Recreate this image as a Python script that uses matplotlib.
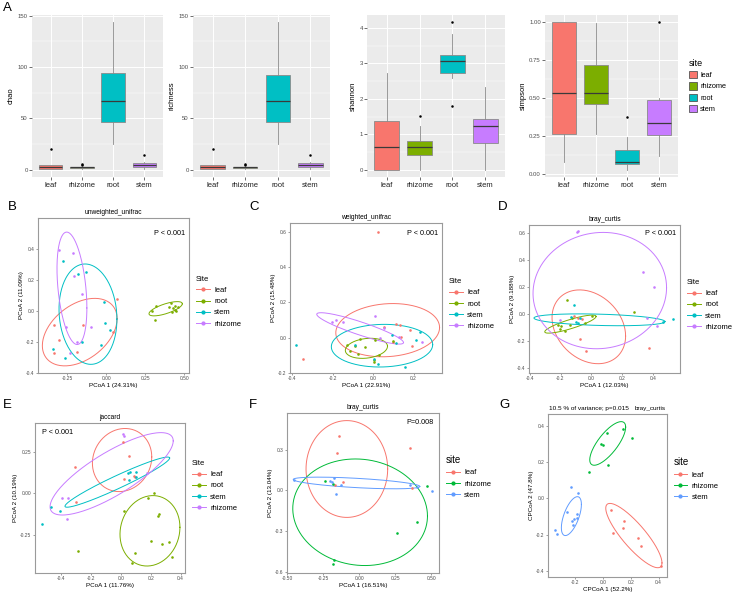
import numpy as np
import matplotlib.pyplot as plt
from matplotlib.lines import Line2D
from matplotlib.patches import Patch
from matplotlib.ticker import MultipleLocator, FormatStrFormatter

plt.rcParams['font.family'] = ['Liberation Sans', 'DejaVu Sans']
plt.rcParams['axes.unicode_minus'] = False

W, H = 733, 592

# ---------------- panel A : alpha diversity boxplots ----------------
sites_a = ["leaf", "rhizome", "root", "stem"]
cols_a = ["#F8766D", "#7CAE00", "#00BFC4", "#C77CFF"]

# [whislo, q1, med, q3, whishi] for leaf, rhizome, root, stem
chao_box = [[1, 1, 2.6, 4.8, 4.8], [1, 1.5, 2.2, 2.2, 2.2], [25, 46, 67, 94, 143.5], [1, 2.2, 4.2, 6.5, 7]]
chao_out = [[20], [4.2, 5.8], [], [14.5]]
rich_box = [[1, 1, 2.6, 4.8, 4.8], [1, 1.5, 2.2, 2.2, 2.2], [25, 46, 67, 92, 143.5], [1, 2.2, 4.2, 6.5, 7]]
rich_out = [[20], [4.2, 5.8], [], [14]]
shan_box = [[0, 0, 0.65, 1.36, 2.73], [0, 0.40, 0.65, 0.81, 1.22], [2.6, 2.72, 3.08, 3.25, 3.84], [0, 0.74, 1.24, 1.43, 2.34]]
shan_out = [[], [1.52], [4.16, 1.81], []]
simp_box = [[0.074, 0.26, 0.536, 1.0, 1.0], [0.26, 0.457, 0.532, 0.716, 0.996], [0.026, 0.061, 0.074, 0.153, 0.24], [0.118, 0.258, 0.333, 0.486, 0.497]]
simp_out = [[], [], [0.372], [1.0]]

# ---------------- PCoA panels ----------------
sites4 = ["leaf", "root", "stem", "rhizome"]
cols4 = {"leaf": "#F8766D", "root": "#7CAE00", "stem": "#00BFC4", "rhizome": "#C77CFF"}
sites3 = ["leaf", "rhizome", "stem"]
cols3 = {"leaf": "#F8766D", "rhizome": "#00BA38", "stem": "#619CFF"}

B_pts = {
    "leaf": ([0.069, -0.338, -0.304, -0.338, -0.150, -0.189, 0.043],
             [0.078, -0.093, -0.186, -0.272, -0.093, -0.268, -0.134]),
    "root": ([0.296, 0.321, 0.313, 0.413, 0.443, 0.460, 0.439, 0.422, 0.450, 0.400, 0.430],
             [-0.004, 0.030, -0.061, 0.052, 0.032, 0.022, 0.004, -0.009, 0.000, 0.022, 0.020]),
    "stem": ([-0.276, -0.184, -0.133, -0.017, -0.011, 0.026, -0.032, -0.156, -0.345, -0.263],
             [0.320, 0.240, 0.249, 0.056, -0.078, -0.125, -0.218, -0.201, -0.249, -0.305]),
    "rhizome": ([-0.304, -0.214, -0.206, -0.159, -0.257, -0.101, -0.189, -0.236],
                [0.391, 0.376, 0.225, 0.106, -0.104, -0.104, -0.201, -0.272]),
}
# ellipse: centre x, centre y, half width, half height, correlation
B_ell = {"leaf": (-0.171, -0.138, 0.240, 0.218, 0.4), "root": (0.381, 0.013, 0.107, 0.046, 0.7),
         "stem": (-0.118, -0.022, 0.186, 0.324, -0.1), "rhizome": (-0.221, 0.145, 0.096, 0.363, -0.35)}

C_pts = {
    "leaf": ([0.026, -0.344, 0.113, 0.134, 0.183, 0.194, 0.136, 0.098, 0.052],
             [0.602, -0.123, 0.079, 0.070, 0.043, -0.047, 0.004, -0.025, 0.060]),
    "root": ([-0.131, -0.116, -0.090, -0.073, -0.042, 0.003, 0.003, 0.028, 0.096, 0.011, -0.065],
             [-0.043, -0.075, -0.047, -0.094, -0.055, -0.126, -0.138, -0.100, -0.019, -0.015, -0.006]),
    "stem": ([-0.380, 0.093, 0.113, 0.212, 0.232, 0.155, 0.024, 0.003, -0.087],
             [-0.042, 0.013, -0.028, -0.013, 0.032, -0.166, -0.147, -0.119, -0.042]),
    "rhizome": ([-0.201, -0.181, -0.150, 0.008, 0.056, 0.033, 0.129, 0.240],
                [0.089, 0.100, 0.089, 0.126, 0.057, -0.004, 0.006, -0.025]),
}
C_ell = {"leaf": (0.072, 0.043, 0.256, 0.151, 0.1), "root": (-0.033, -0.060, 0.104, 0.057, 0.2),
         "stem": (0.044, -0.045, 0.250, 0.121, 0.05), "rhizome": (-0.064, 0.053, 0.214, 0.089, -0.9)}

D_pts = {
    "leaf": ([-0.071, -0.032, 0.374, -0.061, -0.112, -0.086],
             [-0.183, -0.277, -0.254, -0.037, -0.017, -0.025]),
    "root": ([-0.158, 0.275, -0.216, -0.199, -0.205, -0.169, -0.136, -0.128, -0.041, 0.002],
             [0.106, 0.017, -0.084, -0.091, -0.109, -0.123, -0.081, -0.032, -0.067, -0.012]),
    "stem": ([-0.112, 0.530, 0.465, -0.130, -0.097, -0.086, -0.071],
             [0.069, -0.035, -0.062, -0.022, -0.059, -0.067, -0.025]),
    "rhizome": ([-0.091, -0.086, 0.335, 0.404, 0.426, 0.357, -0.201],
                [0.607, 0.617, 0.314, 0.200, -0.091, -0.025, -0.047]),
}
D_ell = {"leaf": (-0.017, -0.094, 0.238, 0.274, -0.25), "root": (-0.136, -0.074, 0.166, 0.067, 0.85),
         "stem": (0.052, -0.042, 0.424, 0.044, -0.3), "rhizome": (0.054, 0.175, 0.432, 0.432, 0.05)}

E_pts = {
    "leaf": ([0.016, 0.054, -0.311, -0.302, 0.022, 0.089, 0.094],
             [0.306, 0.226, 0.157, -0.054, 0.087, 0.105, 0.097]),
    "root": ([0.219, 0.183, 0.246, 0.257, 0.020, 0.199, 0.275, 0.324, 0.340, 0.094, 0.074, -0.291],
             [0.000, -0.030, -0.135, -0.125, -0.105, -0.286, -0.306, -0.292, -0.383, -0.359, -0.419, -0.347]),
    "stem": ([-0.527, -0.469, -0.409, 0.060, 0.049, 0.101, 0.056, 0.098],
             [-0.185, -0.083, -0.105, 0.131, 0.121, 0.129, 0.081, 0.095]),
    "rhizome": ([0.011, 0.018, -0.393, -0.358, -0.364, 0.172],
                [0.357, 0.345, -0.026, -0.030, -0.155, 0.125]),
}
E_ell = {"leaf": (0.007, 0.200, 0.199, 0.190, 0.1), "root": (0.194, -0.226, 0.201, 0.212, 0.1),
         "stem": (-0.025, 0.067, 0.351, 0.151, 0.96), "rhizome": (-0.063, 0.117, 0.413, 0.248, 0.8)}

F_pts = {
    "leaf": ([-0.136, -0.154, 0.356, -0.113, -0.166, 0.370],
             [0.403, 0.275, 0.310, 0.059, 0.037, 0.015]),
    "rhizome": ([-0.234, -0.184, 0.474, 0.402, 0.264, -0.177, -0.184],
                [0.066, 0.047, 0.032, -0.231, -0.315, -0.511, -0.541]),
    "stem": ([-0.453, -0.205, -0.186, -0.177, -0.124, -0.161, 0.356, 0.402, 0.506],
             [0.074, 0.066, 0.059, 0.091, 0.039, -0.027, 0.039, 0.025, -0.005]),
}
F_ell = {"leaf": (-0.085, 0.157, 0.283, 0.357, 0.0), "rhizome": (0.007, -0.162, 0.467, 0.393, -0.07),
         "stem": (-0.018, 0.054, 0.439, 0.043, -0.6)}

G_pts = {
    "leaf": ([0.060, 0.070, 0.152, 0.147, 0.253, 0.272, 0.419],
             [-0.061, -0.189, -0.125, -0.162, -0.217, -0.259, -0.371]),
    "rhizome": ([0.142, 0.031, -0.017, -0.002, 0.207, 0.039, -0.101],
                [0.384, 0.359, 0.300, 0.292, 0.333, 0.184, 0.147]),
    "stem": ([-0.227, -0.181, -0.258, -0.186, -0.190, -0.207, -0.222, -0.214, -0.347, -0.330],
             [0.064, 0.028, -0.074, -0.083, -0.107, -0.114, -0.125, -0.145, -0.175, -0.197]),
}
G_ell = {"leaf": (0.222, -0.204, 0.202, 0.177, -0.85), "rhizome": (0.034, 0.303, 0.129, 0.120, 0.75),
         "stem": (-0.227, -0.097, 0.072, 0.107, 0.6)}


def px_axes(fig, x0, y0, x1, y1):
    return fig.add_axes([x0 / W, 1 - y1 / H, (x1 - x0) / W, (y1 - y0) / H])


fig = plt.figure(figsize=(W / 100, H / 100), dpi=100)


def box_panel(x0, x1, stats, outs, ylab, ylim, step):
    ax = px_axes(fig, x0, 15, x1, 177)
    ax.set_facecolor("#EBEBEB")
    bs = []
    for s, o in zip(stats, outs):
        bs.append(dict(whislo=s[0], q1=s[1], med=s[2], q3=s[3], whishi=s[4], fliers=o))
    parts = ax.bxp(bs, positions=range(4), widths=0.75, patch_artist=True, showcaps=False,
                   flierprops=dict(marker='o', markersize=0.8, markerfacecolor='black',
                                   markeredgecolor='black'),
                   medianprops=dict(color='#3a3a3a', lw=0.9),
                   whiskerprops=dict(color='#8a8a8a', lw=0.6),
                   boxprops=dict(edgecolor='#8a8a8a', lw=0.6))
    for p, c in zip(parts['boxes'], cols_a):
        p.set_facecolor(c)
    ax.set_xlim(-0.6, 3.6)
    ax.set_ylim(*ylim)
    ax.set_xticks(range(4))
    ax.set_xticklabels(sites_a, fontsize=5.5, color='#222222')
    ax.yaxis.set_major_locator(MultipleLocator(step))
    ax.yaxis.set_minor_locator(MultipleLocator(step / 2))
    ax.tick_params(axis='y', labelsize=4.3, labelcolor='#4d4d4d', length=2, width=0.5, color='#333333', pad=1)
    ax.tick_params(axis='y', which='minor', length=0)
    ax.tick_params(axis='x', length=2, width=0.5, color='#333333', pad=1.5)
    ax.grid(True, which='major', color='white', lw=0.7)
    ax.grid(True, which='minor', axis='y', color='white', lw=0.35)
    ax.set_axisbelow(True)
    for sp in ax.spines.values():
        sp.set_visible(False)
    ax.set_ylabel(ylab, fontsize=5.5, labelpad=2)
    return ax


box_panel(32, 163, chao_box, chao_out, "chao", (-7.2, 150.6), 50)
box_panel(193, 330, rich_box, rich_out, "richness", (-7.2, 150.6), 50)
a3 = box_panel(367, 505, shan_box, shan_out, "shannon", (-0.21, 4.37), 1)
a3.yaxis.set_major_formatter(FormatStrFormatter('%d'))
a4 = box_panel(545, 678, simp_box, simp_out, "simpson", (-0.023, 1.049), 0.25)
a4.yaxis.set_major_formatter(FormatStrFormatter('%.2f'))

leg_h = [Patch(facecolor=c, edgecolor='#555555', lw=0.6) for c in cols_a]
fig.legend(leg_h, sites_a, loc='center left', bbox_to_anchor=(689 / W, 1 - 86 / H), frameon=False,
           title='site', title_fontsize=6.5, fontsize=5.3, handlelength=1.1, handleheight=1.1,
           handletextpad=0.4, labelspacing=0.45, borderaxespad=0, borderpad=0, alignment='left')


def ellipse(cx, cy, sx, sy, r):
    t = np.linspace(0, 2 * np.pi, 200)
    return cx + sx * np.cos(t), cy + sy * (r * np.cos(t) + np.sqrt(1 - r * r) * np.sin(t))


def pcoa(box, pts, ell, sites, cols, xlim, ylim, xt, yt, xfmt, yfmt, xlab, ylab, title,
         legtitle, legy, big=False):
    ax = px_axes(fig, *box)
    for s in sites:
        ax.scatter(pts[s][0], pts[s][1], s=3.5, color=cols[s], lw=0, zorder=3)
        ex, ey = ellipse(*ell[s])
        ax.plot(ex, ey, color=cols[s], lw=0.7, zorder=2)
    ax.set_xlim(*xlim)
    ax.set_ylim(*ylim)
    ax.set_xticks(xt)
    ax.set_yticks(yt)
    ax.xaxis.set_major_formatter(FormatStrFormatter(xfmt))
    ax.yaxis.set_major_formatter(FormatStrFormatter(yfmt))
    ax.tick_params(labelsize=3.5, labelcolor='#4d4d4d', length=1.5, width=0.4, color='#555555', pad=1)
    for sp in ax.spines.values():
        sp.set_color('#9a9a9a')
        sp.set_linewidth(0.8)
    ax.set_xlabel(xlab, fontsize=4.5, labelpad=1)
    ax.set_ylabel(ylab, fontsize=4.5, labelpad=1.5)
    if title:
        ax.set_title(title, fontsize=4.8, pad=3)
    hs = [Line2D([], [], color=cols[s], marker='o', markersize=2, lw=0.7) for s in sites]
    ax.legend(hs, sites, loc='center left', bbox_to_anchor=(1.01, legy), frameon=False,
              title=legtitle, title_fontsize=7 if big else 5.5, fontsize=5.5, handlelength=1.8,
              handletextpad=0.6, labelspacing=0.5, borderaxespad=0.3, alignment='left')
    return ax


bx = pcoa((38, 218, 189, 373), B_pts, B_ell, sites4, cols4, (-0.439, 0.531), (-0.402, 0.599),
          [-0.25, 0, 0.25, 0.5], [-0.4, -0.2, 0, 0.2, 0.4], '%.2f', '%.1f',
          "PCoA 1 (24.31%)", "PCoA 2 (11.09%)", "unweighted_unifrac", "Site", 0.46)
bx.text(0.87, 0.9, "P < 0.001", transform=bx.transAxes, fontsize=5.2, ha='center', va='center')

cx = pcoa((290, 223, 442, 373), C_pts, C_ell, sites4, cols4, (-0.41, 0.34), (-0.2, 0.651),
          [-0.4, -0.2, 0, 0.2], [-0.2, 0, 0.2, 0.4, 0.6], '%.1f', '%.1f',
          "PCoA 1 (22.91%)", "PCoA 2 (15.48%)", "weighted_unifrac", "Site", 0.46)
cx.text(0.87, 0.93, "P < 0.001", transform=cx.transAxes, fontsize=5.2, ha='center', va='center')

dx = pcoa((529, 225, 680, 373), D_pts, D_ell, sites4, cols4, (-0.404, 0.573), (-0.437, 0.662),
          [-0.4, -0.2, 0, 0.2, 0.4], [-0.4, -0.2, 0, 0.2, 0.4, 0.6], '%.1f', '%.1f',
          "PCoA 1 (12.03%)", "PCoA 2 (9.188%)", "bray_curtis", "Site", 0.46)
dx.text(0.87, 0.94, "P < 0.001", transform=dx.transAxes, fontsize=5.2, ha='center', va='center')

ex_ = pcoa((35, 423, 185, 573), E_pts, E_ell, sites4, cols4, (-0.577, 0.429), (-0.48, 0.423),
           [-0.4, -0.2, 0, 0.2, 0.4], [-0.25, 0, 0.25], '%.1f', '%.2f',
           "PCoA 1 (11.76%)", "PCoA 2 (10.19%)", "jaccard", "Site", 0.58)
ex_.text(0.15, 0.94, "P < 0.001", transform=ex_.transAxes, fontsize=5.2, ha='center', va='center')

fx = pcoa((287, 413, 439, 573), F_pts, F_ell, sites3, cols3, (-0.499, 0.554), (-0.61, 0.57),
          [-0.5, -0.25, 0, 0.25, 0.5], [-0.6, -0.3, 0, 0.3], '%.2f', '%.1f',
          "PCoA 1 (16.51%)", "PCoA 2 (13.04%)", "bray_curtis", "site", 0.6, big=True)
fx.text(0.875, 0.94, "P=0.008", transform=fx.transAxes, fontsize=5.2, ha='center', va='center')

gx = pcoa((548, 414, 667, 577), G_pts, G_ell, sites3, cols3, (-0.395, 0.46), (-0.432, 0.465),
          [-0.2, 0, 0.2, 0.4], [-0.4, -0.2, 0, 0.2, 0.4], '%.1f', '%.1f',
          "CPCoA 1 (52.2%)", "CPCoA 2 (47.8%)", None, "site", 0.6, big=True)
gx.text(0.01, 1.02, "10.5 % of variance; p=0.015", transform=gx.transAxes, fontsize=4.6,
        ha='left', va='bottom')
gx.text(0.99, 1.02, "bray_curtis", transform=gx.transAxes, fontsize=4.6, ha='right', va='bottom')

# panel letters
for lab, x, y in [("A", 3, 8), ("B", 8, 207), ("C", 249, 207), ("D", 498, 207),
                  ("E", 3, 405), ("F", 249, 405), ("G", 499, 405)]:
    fig.text(x / W, 1 - y / H, lab, fontsize=9.5, ha='left', va='center')

fig.savefig("out.png", dpi=100)
